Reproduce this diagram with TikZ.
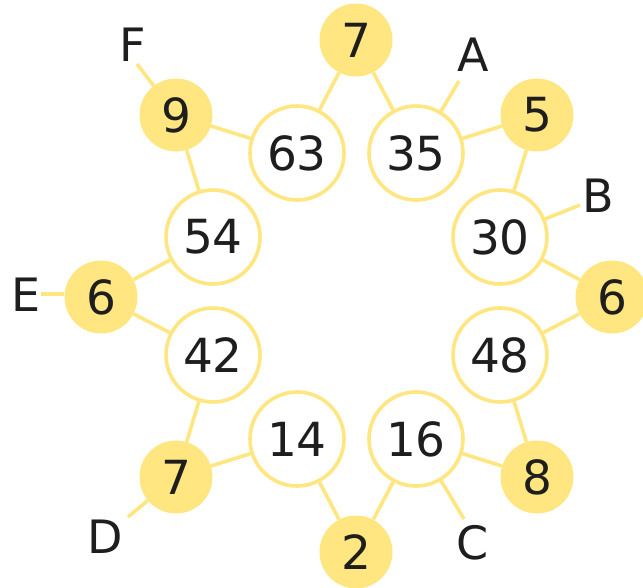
\documentclass[tikz,border=0pt]{standalone}
\usepackage{fontspec}
\setmainfont{DejaVu Sans}
\definecolor{ylw}{HTML}{FFE680}
\definecolor{ink}{HTML}{1E1E1E}
\begin{document}
\begin{tikzpicture}[x=1pt,y=-1pt,
  fac/.style={circle,fill=ylw,minimum size=73pt,inner sep=0pt,text=ink,font=\fontsize{47}{50}\selectfont},
  prod/.style={circle,draw=ylw,line width=3.6pt,fill=white,minimum size=94pt,inner sep=0pt,text=ink,font=\fontsize{47}{50}\selectfont},
  lab/.style={inner sep=0pt,text=ink,font=\fontsize{46}{50}\selectfont},
  link/.style={draw=ylw,line width=3.6pt}]
\useasboundingbox (0,0) rectangle (643,587);
\clip (0,0) rectangle (643,587);
% factor circles
\node[fac] (f7t) at (356,40) {7};
\node[fac] (f9) at (176,115) {9};
\node[fac] (f5) at (537,115) {5};
\node[fac] (f6l) at (101,297) {6};
\node[fac] (f6r) at (612,297) {6};
\node[fac] (f7b) at (176,477) {7};
\node[fac] (f8) at (537,477) {8};
\node[fac] (f2) at (356,552) {2};
% product circles
\node[prod] (p63) at (297,153) {63};
\node[prod] (p35) at (416,153) {35};
\node[prod] (p54) at (213,237) {54};
\node[prod] (p30) at (500,237) {30};
\node[prod] (p42) at (213,355) {42};
\node[prod] (p48) at (500,355) {48};
\node[prod] (p14) at (297,439) {14};
\node[prod] (p16) at (416,439) {16};
% labels
\node[lab] (lF) at (133,45) {F};
\node[lab] (lA) at (473,55) {A};
\node[lab] (lB) at (598,196) {B};
\node[lab] (lE) at (26,295) {E};
\node[lab] (lD) at (105,537) {D};
\node[lab] (lC) at (473,543) {C};
\coordinate (eF) at (137,64);
\coordinate (eA) at (459,81);
\coordinate (eB) at (580,205);
\coordinate (eE) at (41,294);
\coordinate (eD) at (128,517);
\coordinate (eC) at (464,519);
% links
\draw[link] (f7t) -- (p63);
\draw[link] (f7t) -- (p35);
\draw[link] (f9) -- (p63);
\draw[link] (f9) -- (p54);
\draw[link] (f5) -- (p35);
\draw[link] (f5) -- (p30);
\draw[link] (f6l) -- (p54);
\draw[link] (f6l) -- (p42);
\draw[link] (f6r) -- (p30);
\draw[link] (f6r) -- (p48);
\draw[link] (f7b) -- (p42);
\draw[link] (f7b) -- (p14);
\draw[link] (f8) -- (p48);
\draw[link] (f8) -- (p16);
\draw[link] (f2) -- (p14);
\draw[link] (f2) -- (p16);
\draw[link] (eF) -- (f9);
\draw[link] (eA) -- (p35);
\draw[link] (eB) -- (p30);
\draw[link] (eE) -- (eE -| f6l.west);
\draw[link] (eD) -- (f7b);
\draw[link] (eC) -- (p16);
\end{tikzpicture}
\end{document}
